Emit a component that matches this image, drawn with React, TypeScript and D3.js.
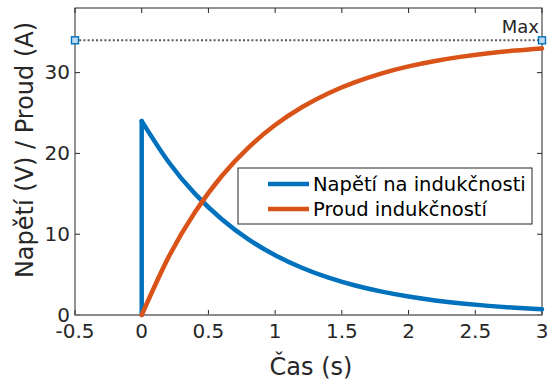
import React, { useEffect, useRef } from "react";
import * as d3 from "d3";

// values
const timeS = [0, 0.2, 0.4, 0.6, 0.8, 1.0, 1.2, 1.4, 1.6, 1.8, 2.0, 2.2, 2.4, 2.6, 2.8, 3.0];
const voltageV = [24, 18.97, 14.99, 11.85, 9.36, 7.40, 5.85, 4.62, 3.65, 2.89, 2.28, 1.80, 1.43, 1.13, 0.89, 0.70];
const currentA = [0, 7.13, 12.76, 17.21, 20.73, 23.51, 25.71, 27.45, 28.82, 29.91, 30.77, 31.44, 31.98, 32.40, 32.74, 33.0];
const maxValue = 34;
const xTicks = [-0.5, 0, 0.5, 1, 1.5, 2, 2.5, 3];
const yTicks = [0, 10, 20, 30];
const seriesNames = ["Napětí na indukčnosti", "Proud indukčností"];
const seriesColors = ["#0072BD", "#D95319"];

const App = () => {
  const svgRef = useRef<SVGSVGElement>(null);

  useEffect(() => {
    const w = 549;
    const h = 383;
    const m = { left: 75, right: 7, top: 8, bottom: 68 };
    const svg = d3.select(svgRef.current);
    svg.selectAll("*").remove();
    svg.attr("width", w).attr("height", h);

    const x = d3.scaleLinear().domain([-0.5, 3]).range([m.left, w - m.right]);
    const y = d3.scaleLinear().domain([0, 38]).range([h - m.bottom, m.top]);
    const font = "DejaVu Sans, sans-serif";
    const axisColor = "#262626";

    // plot box
    svg.append("rect")
      .attr("x", x(-0.5)).attr("y", y(38))
      .attr("width", x(3) - x(-0.5)).attr("height", y(0) - y(38))
      .attr("fill", "white").attr("stroke", axisColor).attr("stroke-width", 1);

    // ticks (inward, on all four sides)
    xTicks.forEach(t => {
      svg.append("line").attr("x1", x(t)).attr("x2", x(t)).attr("y1", y(0)).attr("y2", y(0) - 5)
        .attr("stroke", axisColor);
      svg.append("line").attr("x1", x(t)).attr("x2", x(t)).attr("y1", y(38)).attr("y2", y(38) + 5)
        .attr("stroke", axisColor);
      svg.append("text").attr("x", x(t)).attr("y", 338)
        .attr("text-anchor", "middle").attr("font-family", font).attr("font-size", 20)
        .attr("fill", axisColor).text(t);
    });
    yTicks.forEach(t => {
      svg.append("line").attr("x1", x(-0.5)).attr("x2", x(-0.5) + 5).attr("y1", y(t)).attr("y2", y(t))
        .attr("stroke", axisColor);
      svg.append("line").attr("x1", x(3)).attr("x2", x(3) - 5).attr("y1", y(t)).attr("y2", y(t))
        .attr("stroke", axisColor);
      svg.append("text").attr("x", 70).attr("y", y(t)).attr("dy", "0.34em")
        .attr("text-anchor", "end").attr("font-family", font).attr("font-size", 20)
        .attr("fill", axisColor).text(t);
    });

    // bottom axis line
    svg.append("line").attr("x1", x(-0.5)).attr("x2", x(3)).attr("y1", y(0)).attr("y2", y(0))
      .attr("stroke", "#888").attr("stroke-width", 1.5);

    // axis labels
    svg.append("text").attr("x", 311).attr("y", 375)
      .attr("text-anchor", "middle").attr("font-family", font).attr("font-size", 24)
      .attr("fill", axisColor).text("Čas (s)");
    svg.append("text").attr("transform", "translate(33,150) rotate(-90)")
      .attr("text-anchor", "middle").attr("font-family", font).attr("font-size", 24)
      .attr("fill", axisColor).text("Napětí (V) / Proud (A)");

    // max line
    svg.append("line").attr("x1", x(-0.5)).attr("x2", x(3)).attr("y1", y(maxValue)).attr("y2", y(maxValue))
      .attr("stroke", "#5a5a5a").attr("stroke-width", 2).attr("stroke-dasharray", "2,2.2");
    [-0.5, 3].forEach(t => {
      svg.append("rect").attr("x", x(t) - 3.5).attr("y", y(maxValue) - 3.5)
        .attr("width", 7).attr("height", 7)
        .attr("fill", "#bcd9ee").attr("stroke", "#0072BD").attr("stroke-width", 1.4);
    });
    svg.append("text").attr("x", 539).attr("y", 33)
      .attr("text-anchor", "end").attr("font-family", font).attr("font-size", 18)
      .attr("fill", axisColor).text("Max");

    // series
    const curve = d3.line<number>()
      .x((_, i) => x(timeS[i]))
      .curve(d3.curveNatural);

    // voltage: jump from 0 to the peak at t = 0, then decay
    svg.append("line").attr("x1", x(0)).attr("x2", x(0)).attr("y1", y(0)).attr("y2", y(voltageV[0]))
      .attr("stroke", seriesColors[0]).attr("stroke-width", 4.5).attr("stroke-linecap", "round");
    svg.append("path").datum(voltageV)
      .attr("d", curve.y(d => y(d)))
      .attr("fill", "none").attr("stroke", seriesColors[0]).attr("stroke-width", 4.5)
      .attr("stroke-linecap", "round").attr("stroke-linejoin", "round");
    svg.append("path").datum(currentA)
      .attr("d", curve.y(d => y(d)))
      .attr("fill", "none").attr("stroke", seriesColors[1]).attr("stroke-width", 4.5)
      .attr("stroke-linecap", "round").attr("stroke-linejoin", "round");

    // legend
    const lg = svg.append("g").attr("transform", "translate(238,168)");
    lg.append("rect").attr("width", 294).attr("height", 56)
      .attr("fill", "white").attr("stroke", axisColor).attr("stroke-width", 1);
    seriesNames.forEach((name, i) => {
      const ly = 16 + i * 25;
      lg.append("line").attr("x1", 30).attr("x2", 71).attr("y1", ly).attr("y2", ly)
        .attr("stroke", seriesColors[i]).attr("stroke-width", 4.5);
      lg.append("text").attr("x", 75).attr("y", ly).attr("dy", "0.36em")
        .attr("font-family", font).attr("font-size", 19.5).attr("fill", "#000").text(name);
    });
  }, []);

  return (
    <div>
      <svg ref={svgRef} style={{ position: "absolute", left: 0, top: 0 }}></svg>
    </div>
  );
};

export default App;
